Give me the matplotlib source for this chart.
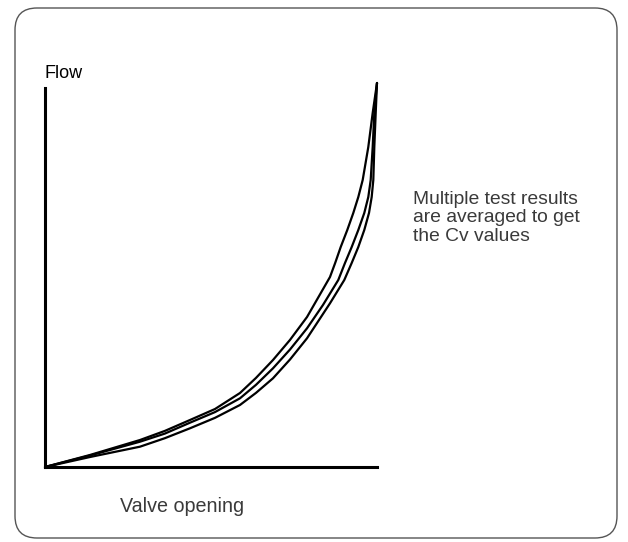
import matplotlib
matplotlib.use("Agg")
import matplotlib.pyplot as plt
from matplotlib.patches import FancyBboxPatch

# Valve opening (%) vs flow (%) for three test runs
run_a_x = [0, 13.55, 28.61, 36.1, 43.67, 51.2, 58.73, 63.55, 68.67, 73.8, 78.92,
           85.84, 87.4, 89.07, 91.05, 92.86, 94.37, 95.69, 97.38, 98.70, 100]
run_a_y = [0, 3.13, 7.03, 9.4, 12.24, 15.1, 19.27, 23.2, 27.86, 33.1, 39.06,
           49.48, 53.13, 57.29, 61.72, 66.15, 70.31, 74.74, 83.33, 92.19, 100]

run_b_x = [0, 13.55, 28.61, 36.1, 43.67, 51.2, 58.73, 63.55, 68.67, 73.8, 78.92,
           83.73, 88.34, 90.36, 92.38, 94.37, 96.17, 97.38, 98.10, 98.70, 99.19, 100]
run_b_y = [0, 2.99, 6.59, 8.7, 11.54, 14.3, 17.89, 21.4, 25.70, 30.6, 36.12,
           42.2, 48.70, 53.13, 57.29, 61.72, 66.15, 70.31, 74.74, 83.33, 92.19, 100]

run_c_x = [0, 13.55, 28.61, 36.1, 43.67, 51.2, 58.73, 63.55, 68.67, 73.8, 78.92,
           85.84, 90.15, 92.38, 94.37, 96.17, 97.59, 98.40, 98.89, 99.19, 99.61, 100]
run_c_y = [0, 2.60, 5.29, 7.5, 10.08, 12.8, 16.15, 19.3, 23.10, 28.0, 33.52,
           42.63, 48.70, 53.13, 57.29, 61.72, 66.15, 70.31, 74.74, 83.33, 92.19, 100]

y_label = "Flow"
x_label = "Valve opening"
note = "Multiple test results\nare averaged to get\nthe Cv values"

W, H = 628, 542
fig = plt.figure(figsize=(W / 100, H / 100), dpi=100)
fig.patch.set_facecolor("white")
plt.rcParams["font.family"] = ["Liberation Sans", "DejaVu Sans"]

# rounded frame
frame = FancyBboxPatch((15 / W, 1 - 538 / H), (617 - 15) / W, (538 - 8) / H,
                       boxstyle="round,pad=0,rounding_size=0.035",
                       transform=fig.transFigure, facecolor="none",
                       edgecolor="#555555", linewidth=1.0,
                       mutation_aspect=W / H)
fig.patches.append(frame)

x0, y0 = 45, 467
ax = fig.add_axes([x0 / W, 1 - y0 / H, (377 - x0) / W, (y0 - 83) / H])
ax.set_xlim(0, 100)
ax.set_ylim(0, 100)
for s in ["top", "right"]:
    ax.spines[s].set_visible(False)
for s in ["left", "bottom"]:
    ax.spines[s].set_linewidth(2.2)
    ax.spines[s].set_color("black")
ax.spines["left"].set_bounds(0, (y0 - 88) / (y0 - 83) * 100)
ax.set_xticks([])
ax.set_yticks([])
ax.patch.set_alpha(0)

for xs, ys in [(run_a_x, run_a_y), (run_b_x, run_b_y), (run_c_x, run_c_y)]:
    ax.plot(xs, ys, color="black", linewidth=1.6, clip_on=False,
            solid_joinstyle="round", solid_capstyle="round")

fig.text(45 / W, 1 - 78 / H, y_label, fontsize=13, color="black",
         ha="left", va="baseline")
fig.text(120 / W, 1 - 512 / H, x_label, fontsize=14.2, color="#3a3a3a",
         ha="left", va="baseline")
fig.text(413 / W, 1 - 191 / H, note, fontsize=13.9, color="#3a3a3a",
         ha="left", va="top", linespacing=1.1)

fig.savefig("out.png", dpi=100)
